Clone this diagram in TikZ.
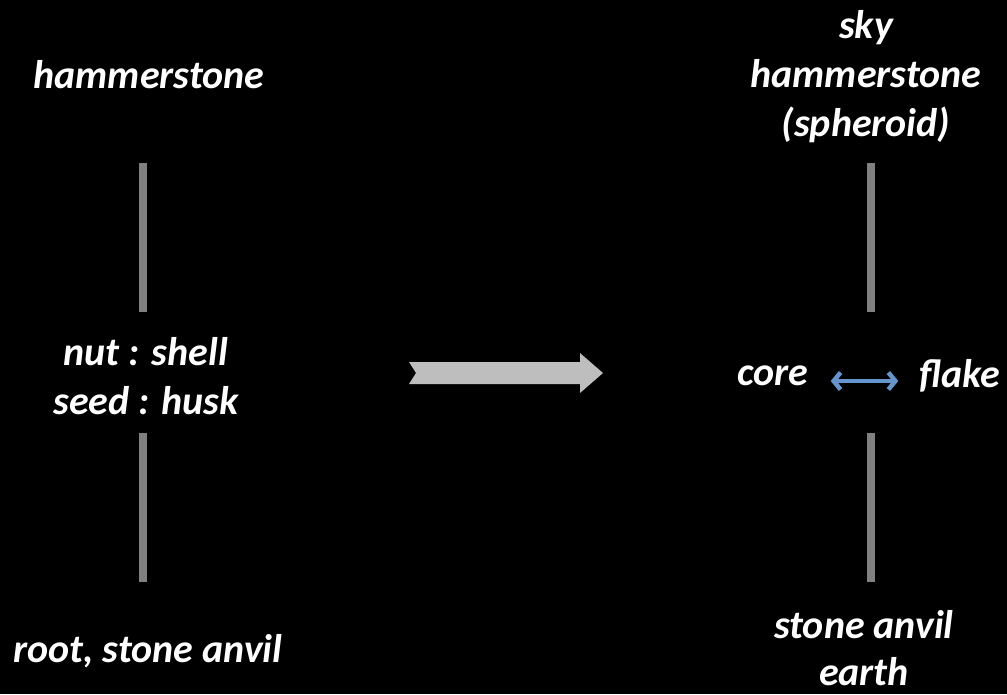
\documentclass[tikz,border=0pt]{standalone}
\usepackage{fontspec}
\setmainfont{Carlito}
\usetikzlibrary{arrows.meta}
\definecolor{bargray}{RGB}{128,128,128}
\definecolor{arrowgray}{RGB}{190,190,190}
\definecolor{linkblue}{RGB}{100,150,205}
\begin{document}
\begin{tikzpicture}[x=1pt,y=-1pt,
  lbl/.style={text=white,font=\fontsize{40}{49}\selectfont\bfseries\itshape,align=center,inner sep=0pt},
  bar/.style={fill=bargray,draw=none},
  bigarrow/.style={fill=arrowgray,draw=none},
  link/.style={draw=linkblue,line width=4.5pt,{Straight Barb[length=7pt,width=17pt]}-{Straight Barb[length=7pt,width=17pt]}}]
\fill[black] (0,0) rectangle (1007,694);
\useasboundingbox (0,0) rectangle (1007,694);
% left column
\node[lbl] (lham) at (149,75) {hammerstone};
\node[lbl] (lnut) at (146,376) {nut : shell\\seed : husk};
\node[lbl] (lroot) at (148,651) {root, stone anvil};
\fill[bar] (139,163) rectangle (147,312);
\fill[bar] (139,433) rectangle (147,582);
% central arrow
\fill[bigarrow] (409,362) -- (580,362) -- (580,353) -- (603,373) -- (580,393) -- (580,384) -- (409,384) -- (416,373) -- cycle;
% right column
\node[lbl] (rsky) at (866,77) {sky\\hammerstone\\(spheroid)};
\fill[bar] (867,163) rectangle (875,312);
\fill[bar] (867,433) rectangle (875,582);
\node[lbl] (rcore) at (773,376) {core};
\node[lbl] (rflake) at (960,376) {flake};
\draw[link,shorten <=22pt,shorten >=21pt] ([yshift=-5pt]rcore.east) -- ([yshift=-5pt]rflake.west);
\node[lbl,font=\fontsize{40}{47}\selectfont\bfseries\itshape] (rstone) at (864,648) {stone anvil\\earth};
\end{tikzpicture}
\end{document}
